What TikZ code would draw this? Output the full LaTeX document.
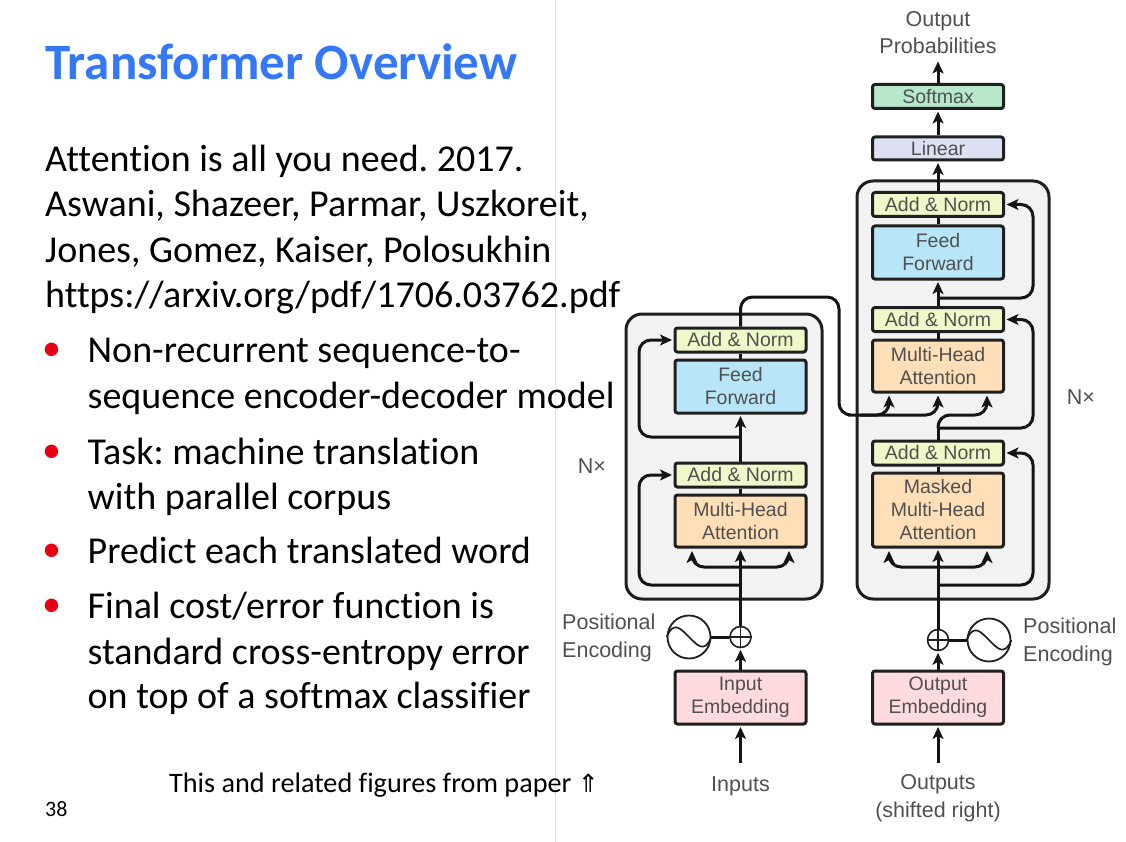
\documentclass[tikz,border=0pt]{standalone}
\usepackage{fontspec}
\setmainfont{Carlito}[Ligatures=NoCommon,RawFeature={-liga;-clig;-calt}]
\newfontfamily\diagfont{Liberation Sans}
\newfontfamily\symfont{DejaVu Sans}
\usetikzlibrary{arrows.meta}
\definecolor{anorm}{HTML}{EFF8C8}
\definecolor{ffwd}{HTML}{B8E6F8}
\definecolor{mha}{HTML}{FFDFB8}
\definecolor{emb}{HTML}{FFDADF}
\definecolor{lin}{HTML}{DDDFF3}
\definecolor{soft}{HTML}{B6E8C9}
\definecolor{panel}{HTML}{F2F2F2}
\definecolor{dtext}{HTML}{505050}
\definecolor{titleblue}{HTML}{3478F6}
\definecolor{bulletred}{HTML}{E60012}
\tikzset{
  x=1pt,y=-1pt,
  bodytext/.style={anchor=base west,inner sep=0pt,font=\frenchspacing\fontsize{38}{42}\selectfont,text=black},
  bulletmark/.style={anchor=base west,inner sep=0pt,font=\fontsize{38}{42}\selectfont,text=bulletred},
  blockbox/.style={draw=black!88,line width=3pt,rounded corners=2.5pt,inner sep=0pt,minimum width=131pt,text=dtext,align=center,font=\diagfont\fontsize{19.5}{23}\selectfont},
  addnorm/.style={blockbox,fill=anorm,minimum height=24pt},
  feedfwd/.style={blockbox,fill=ffwd,minimum height=53pt},
  attn/.style={blockbox,fill=mha,minimum height=52pt},
  embed/.style={blockbox,fill=emb,minimum height=53pt},
  panelbox/.style={draw=black!88,line width=3pt,rounded corners=16pt,fill=panel},
  lbl/.style={inner sep=0pt,text=dtext,font=\diagfont\fontsize{21.5}{27.5}\selectfont},
  conn/.style={draw=black!92,line width=3pt,rounded corners=12pt},
  arr/.style={conn,-{Stealth[length=12pt,width=11pt,inset=3pt]},shorten >=1.5pt},
  sumnode/.style={circle,draw=black!88,line width=1.6pt,minimum size=21pt,inner sep=0pt,fill=white},
  sinenode/.style={circle,draw=black!88,line width=1.8pt,minimum size=43pt,inner sep=0pt,fill=white},
  fine/.style={draw=black!88,line width=1.7pt}
}
\begin{document}
\begin{tikzpicture}
\useasboundingbox (0,0) rectangle (1126,842);
\fill[white] (0,0) rectangle (1126,842);
\draw[black!10,line width=0.8pt] (555,0) -- (555,842);
% slide text
\node[anchor=base west,inner sep=0pt,text=titleblue,font=\bfseries\fontsize{51}{55}\selectfont] (title) at (45,80) {Transformer Overview};
\node[bodytext] (t1) at (45,172) {Attention is all you need. 2017.};
\node[bodytext] (t2) at (45,217) {Aswani, Shazeer, Parmar, Uszkoreit,};
\node[bodytext] (t3) at (45,262) {Jones, Gomez, Kaiser, Polosukhin};
\node[bodytext] (t4) at (45,307) {https://arxiv.org/pdf/1706.03762.pdf};
\node[bulletmark] (b1) at (42,360) {•};
\node[bodytext] (t5) at (87.5,362) {Non-recurrent sequence-to-};
\node[bodytext] (t6) at (87.5,408) {sequence encoder-decoder model};
\node[bulletmark] (b2) at (42,462) {•};
\node[bodytext] (t7) at (87.5,464) {Task: machine translation};
\node[bodytext] (t8) at (87.5,509) {with parallel corpus};
\node[bulletmark] (b3) at (42,561) {•};
\node[bodytext] (t9) at (87.5,563) {Predict each translated word};
\node[bulletmark] (b4) at (42,616) {•};
\node[bodytext] (t10) at (87.5,618) {Final cost/error function is};
\node[bodytext] (t11) at (87.5,664) {standard cross-entropy error};
\node[bodytext] (t12) at (87.5,708) {on top of a softmax classifier};
\node[anchor=base west,inner sep=0pt,font=\fontsize{28.2}{32}\selectfont] (src) at (169,792) {This and related figures from paper {\symfont\fontsize{25}{29}\selectfont ⇑}};
\node[anchor=base west,inner sep=0pt,font=\fontsize{22}{25}\selectfont] (pg) at (45,816) {38};
% panels
\draw[panelbox] (626,314) rectangle (822,599);
\draw[panelbox] (857,181) rectangle (1049,599);
% encoder
\node[addnorm] (ean2) at (740.5,340) {Add \& Norm};
\node[feedfwd] (eff) at (740.5,386.5) {Feed\\Forward};
\node[addnorm] (ean1) at (740.5,475) {Add \& Norm};
\node[attn] (ema) at (740.5,521) {Multi-Head\\Attention};
\node[embed] (eemb) at (740.5,697.5) {Input\\Embedding};
\node[sumnode] (esum) at (740.5,637) {};
\node[sinenode] (esin) at (689,637) {};
% decoder
\node[blockbox,fill=soft,minimum height=24pt] (soft) at (938,96.5) {Softmax};
\node[blockbox,fill=lin,minimum height=23pt] (lin) at (938,148.5) {Linear};
\node[addnorm] (dan3) at (938,204.5) {Add \& Norm};
\node[feedfwd] (dff) at (938,252.5) {Feed\\Forward};
\node[addnorm] (dan2) at (938,319.5) {Add \& Norm};
\node[attn] (dma) at (938,366) {Multi-Head\\Attention};
\node[addnorm] (dan1) at (938,453) {Add \& Norm};
\node[blockbox,fill=mha,minimum height=74pt] (dmm) at (938,510) {Masked\\Multi-Head\\Attention};
\node[embed] (demb) at (938,697.5) {Output\\Embedding};
\node[sumnode] (dsum) at (938,640) {};
\node[sinenode] (dsin) at (989,640) {};
% labels
\node[lbl,align=center] (lout) at (938,32.5) {Output\\Probabilities};
\node[lbl,align=left,anchor=west] (lpe) at (562,638) {Positional\\Encoding};
\node[lbl,align=left,anchor=west] (lpd) at (1023,642) {Positional\\Encoding};
\node[lbl] (lne) at (592,466) {N×};
\node[lbl] (lnd) at (1081,397) {N×};
\node[lbl] (lin1) at (740.5,786) {Inputs};
\node[lbl,align=center] (lin2) at (938,798) {Outputs\\(shifted right)};
% free ends
\coordinate (ie) at (740.5,763);
\coordinate (id) at (938,763);
\coordinate (eres1) at (740.5,585);
\coordinate (eres2) at (740.5,437);
\coordinate (efork) at (740.5,567);
\coordinate (eforkL) at (692,549.5);
\coordinate (eforkR) at (789,549.5);
\coordinate (etop) at (740.5,297);
\coordinate (ecross) at (839,297);
\coordinate (ebus) at (860,415);
\coordinate (dqL) at (889,394);
\coordinate (dqM) at (938,394);
\coordinate (dqR) at (987,394);
\coordinate (dres1) at (938,585);
\coordinate (dres2) at (938,428);
\coordinate (dres3) at (938,298);
\coordinate (dfork) at (938,567);
\coordinate (dforkL) at (889,549.5);
\coordinate (dforkR) at (987,549.5);
\coordinate (op) at (938,60);
% encoder connectors
\draw[arr] (ie) -- (eemb.south);
\draw[arr] (eemb.north) -- (esum.south);
\draw[conn] (esin.east) -- (esum.west);
\draw[arr] (esum.north) -- (ema.south);
\draw[arr] (efork) -| (eforkL);
\draw[arr] (efork) -| (eforkR);
\draw[arr] (eres1) -| (639,475) -- (ean1.west);
\draw[conn] (ema.north) -- (ean1.south);
\draw[arr] (ean1.north) -- (eff.south);
\draw[arr] (eres2) -| (639,340) -- (ean2.west);
\draw[conn] (eff.north) -- (ean2.south);
\draw[arr] (ean2.north) |- (ecross) |- (ebus) -| (dqM);
\draw[arr] (ebus) -| (dqL);
% decoder connectors
\draw[arr] (id) -- (demb.south);
\draw[arr] (demb.north) -- (dsum.south);
\draw[conn] (dsin.west) -- (dsum.east);
\draw[arr] (dsum.north) -- (dmm.south);
\draw[arr] (dfork) -| (dforkL);
\draw[arr] (dfork) -| (dforkR);
\draw[arr] (dres1) -| (1033,453) -- (dan1.east);
\draw[conn] (dmm.north) -- (dan1.south);
\draw[conn] (dan1.north) -- (dres2);
\draw[arr] (dres2) |- (960,415) -| (dqR);
\draw[arr] (dres2) -| (1033,319.5) -- (dan2.east);
\draw[conn] (dma.north) -- (dan2.south);
\draw[arr] (dan2.north) -- (dff.south);
\draw[arr] (dres3) -| (1033,204.5) -- (dan3.east);
\draw[conn] (dff.north) -- (dan3.south);
\draw[arr] (dan3.north) -- (lin.south);
\draw[arr] (lin.north) -- (soft.south);
\draw[arr] (soft.north) -- (op);
% sum and sine glyphs
\draw[fine] (esum.west) -- (esum.east) (esum.north) -- (esum.south);
\draw[fine] (dsum.west) -- (dsum.east) (dsum.north) -- (dsum.south);
\draw[fine] (esin.west) .. controls +(7,-17) and +(-8,-8) .. (esin.center) .. controls +(8,8) and +(-7,17) .. (esin.east);
\draw[fine] (dsin.west) .. controls +(7,-17) and +(-8,-8) .. (dsin.center) .. controls +(8,8) and +(-7,17) .. (dsin.east);
\end{tikzpicture}
\end{document}
